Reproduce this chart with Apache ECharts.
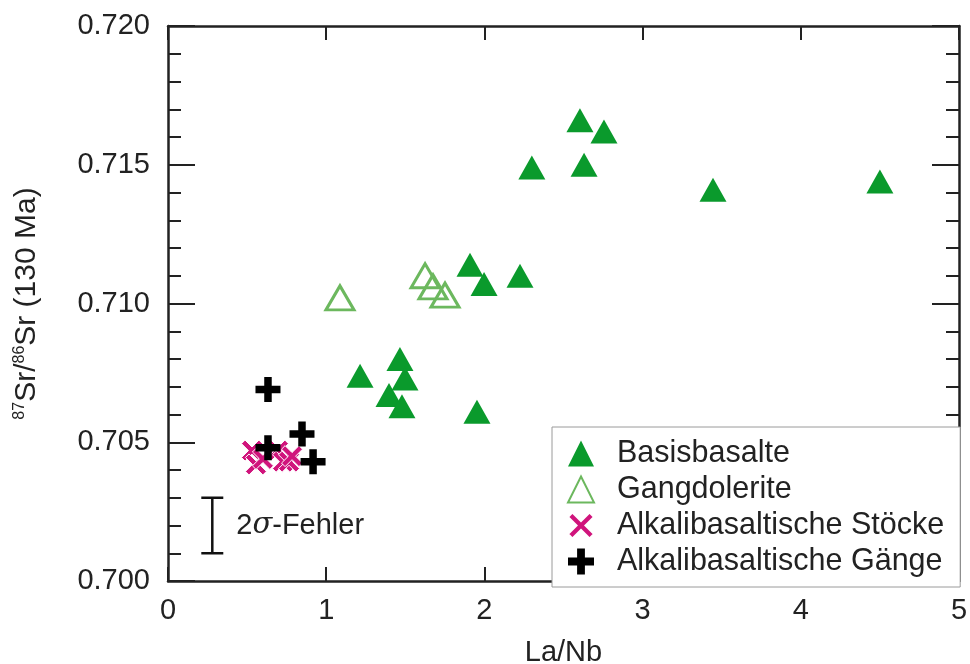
<!DOCTYPE html>
<html><head><meta charset="utf-8">
<script src="https://cdn.jsdelivr.net/npm/echarts@6/dist/echarts.min.js"></script>
<style>html,body{margin:0;padding:0;background:#fff}#c{width:970px;height:664px}</style>
</head><body><div id="c"></div>
<script>
// ---- data ----
const seriesNames = ['Basisbasalte', 'Gangdolerite', 'Alkalibasaltische Stöcke', 'Alkalibasaltische Gänge'];
const basisLaNb = [2.604, 2.756, 2.630, 2.300, 1.909, 1.998, 2.225, 3.445, 4.500, 1.214, 1.466, 1.498, 1.397, 1.479, 1.953];
const basisSr   = [0.7166, 0.7162, 0.7150, 0.7149, 0.7114, 0.7107, 0.7110, 0.7141, 0.7144, 0.7074, 0.7080, 0.7073, 0.7067, 0.7063, 0.7061];
const gangLaNb  = [1.087, 1.625, 1.675, 1.751];
const gangSr    = [0.7102, 0.7110, 0.7106, 0.7103];
const stoeckeLaNb = [0.531, 0.556, 0.600, 0.695, 0.727, 0.765, 0.784];
const stoeckeSr   = [0.7047, 0.7042, 0.7044, 0.7047, 0.7043, 0.7043, 0.7045];
const gaengeLaNb = [0.632, 0.632, 0.847, 0.917];
const gaengeSr   = [0.7069, 0.7048, 0.7053, 0.7043];
const errorBar = [0.28, 0.701, 0.703]; // x, low, high
const xTicks = [0, 1, 2, 3, 4, 5];
const yTicks = [0.700, 0.705, 0.710, 0.715, 0.720];
const xName = 'La/Nb';
// ---------------

const zip = (a, b) => a.map((v, i) => [v, b[i]]);
const FONT = 'Liberation Sans, Arial, sans-serif';
const TXT = '#222';
const AX = '#222';
const FS = 29;
const LFS = 30.5;

const plusPath = 'path://M35,0H65V35H100V65H65V100H35V65H0V35H35Z';
const xPath = 'path://M17,0L50,33L83,0L100,17L67,50L100,83L83,100L50,67L17,100L0,83L33,50L0,17Z';

const axisLineStyle = { show: true, onZero: false, lineStyle: { color: AX, width: 2.5 } };
const xTickStyle = { show: true, inside: true, length: 14, lineStyle: { color: AX, width: 2 } };
const yTickStyle = { show: true, inside: true, length: 27, lineStyle: { color: AX, width: 2 } };
const yMinorStyle = { show: true, splitNumber: 5, length: 13, lineStyle: { color: AX, width: 2 } };

const chart = echarts.init(document.getElementById('c'), null, { renderer: 'canvas' });
chart.setOption({
  animation: false,
  backgroundColor: '#fff',
  textStyle: { fontFamily: FONT },
  grid: { left: 168, top: 26, right: 11, bottom: 83, containLabel: false, outerBoundsMode: 'none' },
  xAxis: [{
    type: 'value', min: xTicks[0], max: xTicks[xTicks.length - 1], interval: 1,
    position: 'bottom',
    name: xName, nameLocation: 'middle', nameGap: 57,
    nameTextStyle: { fontSize: FS, color: TXT, fontFamily: FONT },
    axisLine: axisLineStyle,
    axisTick: xTickStyle,
    axisLabel: { fontSize: FS, color: TXT, margin: 15, fontFamily: FONT },
    splitLine: { show: false }
  }, {
    type: 'value', min: xTicks[0], max: xTicks[xTicks.length - 1], interval: 1,
    position: 'top',
    axisLine: axisLineStyle,
    axisTick: xTickStyle,
    axisLabel: { show: false },
    splitLine: { show: false }
  }],
  yAxis: [{
    type: 'value', min: yTicks[0], max: yTicks[yTicks.length - 1], interval: 0.005,
    position: 'left',
    name: '{sup|87}Sr/{sup|86}Sr (130 Ma)', nameLocation: 'middle', nameGap: 126,
    nameRotate: 90,
    nameTextStyle: {
      fontSize: 30, color: TXT, fontFamily: FONT,
      rich: { sup: { fontSize: 16, color: TXT, fontFamily: FONT, verticalAlign: 'top', padding: [0, 0, 12, 0] } }
    },
    axisLine: axisLineStyle,
    axisTick: yTickStyle,
    minorTick: yMinorStyle,
    axisLabel: { fontSize: FS, color: TXT, margin: 18, fontFamily: FONT, formatter: v => v.toFixed(3) },
    splitLine: { show: false }
  }, {
    type: 'value', min: yTicks[0], max: yTicks[yTicks.length - 1], interval: 0.005,
    position: 'right',
    axisLine: axisLineStyle,
    axisTick: yTickStyle,
    minorTick: yMinorStyle,
    axisLabel: { show: false },
    splitLine: { show: false }
  }],
  legend: {
    data: seriesNames,
    orient: 'vertical',
    left: 552, top: 427,
    padding: [11, 16, 10, 15],
    itemWidth: 26, itemHeight: 26, itemGap: 5,
    backgroundColor: '#fff',
    borderColor: '#9a9a9a', borderWidth: 1, borderRadius: 0,
    textStyle: { fontSize: LFS, color: TXT, fontFamily: FONT, lineHeight: 30, padding: [0, 0, 0, 18] },
    z: 10
  },
  series: [{
    name: seriesNames[0], type: 'scatter', xAxisIndex: 0, yAxisIndex: 0,
    data: zip(basisLaNb, basisSr),
    symbol: 'triangle', symbolSize: [27, 24],
    itemStyle: { color: '#0a9a2c', opacity: 1 }
  }, {
    name: seriesNames[1], type: 'scatter', xAxisIndex: 0, yAxisIndex: 0,
    data: zip(gangLaNb, gangSr),
    symbol: 'triangle', symbolSize: [28, 24],
    itemStyle: { color: 'rgba(255,255,255,0)', borderColor: '#6cb85e', borderWidth: 3, opacity: 1 }
  }, {
    name: seriesNames[2], type: 'scatter', xAxisIndex: 0, yAxisIndex: 0,
    data: zip(stoeckeLaNb, stoeckeSr),
    symbol: xPath, symbolSize: 21,
    itemStyle: { color: '#d0147c', borderColor: '#fff', borderWidth: 1, opacity: 1 }
  }, {
    name: seriesNames[3], type: 'scatter', xAxisIndex: 0, yAxisIndex: 0,
    data: zip(gaengeLaNb, gaengeSr),
    symbol: plusPath, symbolSize: 25,
    itemStyle: { color: '#000', opacity: 1 }
  }, {
    name: 'err', type: 'custom', xAxisIndex: 0, yAxisIndex: 0,
    data: [errorBar],
    encode: { x: 0, y: [1, 2] },
    renderItem: (params, api) => {
      const lo = api.coord([api.value(0), api.value(1)]);
      const hi = api.coord([api.value(0), api.value(2)]);
      const cap = 11;
      const st = { stroke: '#111', lineWidth: 2.5 };
      return {
        type: 'group',
        children: [
          { type: 'line', shape: { x1: lo[0], y1: lo[1], x2: hi[0], y2: hi[1] }, style: st },
          { type: 'line', shape: { x1: lo[0] - cap, y1: lo[1], x2: lo[0] + cap, y2: lo[1] }, style: st },
          { type: 'line', shape: { x1: hi[0] - cap, y1: hi[1], x2: hi[0] + cap, y2: hi[1] }, style: st },
          { type: 'text', x: lo[0] + 24, y: (lo[1] + hi[1]) / 2,
            style: {
              text: '2{i|σ}-Fehler',
              fill: TXT, fontSize: FS, fontFamily: FONT,
              verticalAlign: 'middle', align: 'left',
              rich: { i: { fontStyle: 'italic', fontSize: FS, fontFamily: 'DejaVu Serif, serif', fill: TXT } }
            } }
        ]
      };
    },
    z: 3
  }]
});
</script></body></html>
